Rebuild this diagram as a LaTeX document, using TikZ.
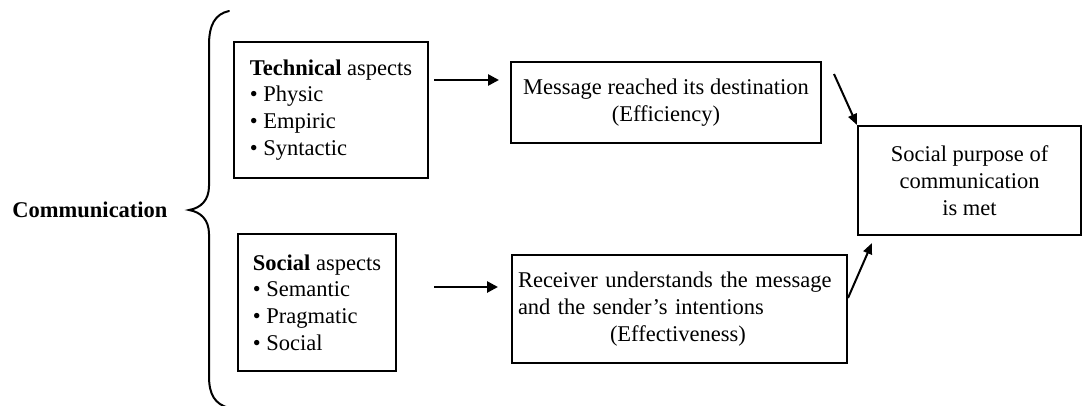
\documentclass[tikz,border=0pt]{standalone}
\usepackage{fontspec}
\setmainfont{Liberation Serif}
\usetikzlibrary{arrows.meta,calc}

\tikzset{
  box/.style={draw, line width=2pt, inner sep=0pt, font=\fontsize{22.5}{26.8}\selectfont},
  harrow/.style={line width=2.6pt, -{Triangle[length=11pt,width=11pt]}},
  darrow/.style={line width=2pt, -{Triangle[length=11pt,width=9pt]}},
  bracepath/.style={line width=2pt, line cap=round}
}

\begin{document}
\begin{tikzpicture}[x=1pt,y=-1pt]
\useasboundingbox (0,0) rectangle (1082,405);

% aspect boxes
\node[box, minimum width=194pt, minimum height=136pt, align=left] (tech) at (331,110)
  {\textbf{Technical} aspects\\• Physic\\• Empiric\\• Syntactic};
\node[box, minimum width=158pt, minimum height=137pt, align=left] (soc) at (317,302.5)
  {\textbf{Social} aspects\\• Semantic\\• Pragmatic\\• Social};

% outcome boxes
\node[box, minimum width=310pt, minimum height=81pt, align=center] (msg) at (666,102.5)
  {Message reached its destination\\(Efficiency)};
\node[box, minimum width=335pt, minimum height=108pt, text width=323pt, inner xsep=6pt, align=left] (recv) at (679.5,309)
  {Receiver understands the message\\and the sender’s intentions\\\hspace*{92pt}(Effectiveness)};

% goal box
\node[box, minimum width=223pt, minimum height=109pt, align=center] (goal) at (969.5,180.5)
  {Social purpose of\\communication\\is met};

% root label
\node[font=\fontsize{22.5}{26.8}\selectfont\bfseries] (comm) at (90,210) {Communication};

% curly brace
\draw[bracepath] (229,11) .. controls (215,14) and (209,25) .. (209,45)
  -- (209,186) .. controls (209,200) and (201,208) .. (189,210)
  .. controls (201,212) and (209,220) .. (209,234)
  -- (209,376) .. controls (209,395) and (215,404) .. (229,408);

% connectors
\draw[harrow] ([shift={(5,-30)}]tech.east) -- ([shift={(-11,-22.5)}]msg.west);
\draw[harrow] ([shift={(37,-15.5)}]soc.east) -- ([shift={(-13,-22)}]recv.west);
\draw[darrow] ([shift={(12,-28.5)}]msg.east) -- (goal.north west);
\draw[darrow] ([shift={(0,-11)}]recv.east) -- ([shift={(15,7)}]goal.south west);
\end{tikzpicture}
\end{document}
